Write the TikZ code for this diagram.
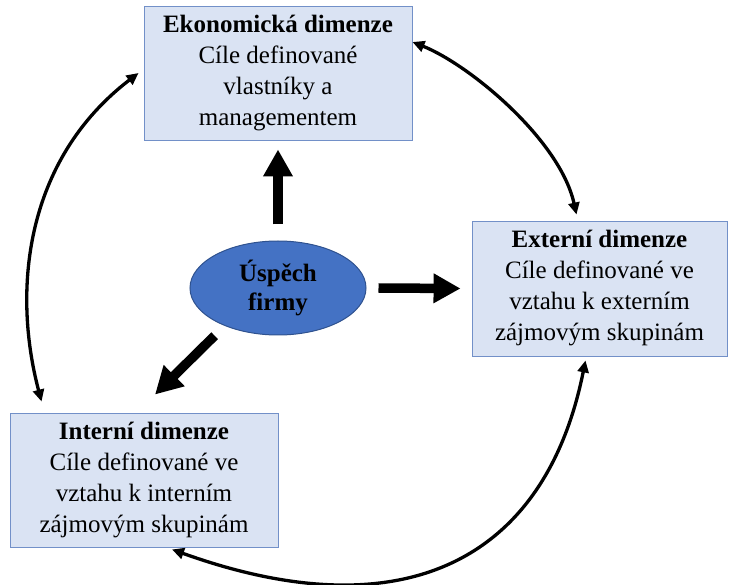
\documentclass[tikz,border=0pt]{standalone}
\usepackage{fontspec}
\setmainfont{Liberation Serif}
\usepackage{tikz}
\usetikzlibrary{arrows.meta, positioning, shapes.geometric}
\usepackage{xcolor}
\definecolor{boxfill}{HTML}{DAE3F3}
\definecolor{boxline}{HTML}{7290C8}
\definecolor{goalfill}{HTML}{4472C4}
\definecolor{goalline}{HTML}{2F528F}
\tikzset{%
	every dimension/.style={
		rectangle,
		draw=boxline,
		fill=boxfill,
		line width=0.9pt,
		inner sep=0pt,
		align=center,
		font=\fontsize{25}{31}\selectfont
	},
	success/.style={
		ellipse,
		draw=goalline,
		fill=goalfill,
		line width=1pt,
		minimum width=176pt,
		minimum height=94pt,
		inner sep=0pt,
		align=center,
		font=\fontsize{25}{29}\selectfont\bfseries
	},
}

\begin{document}
\begin{tikzpicture}[
			x=1pt, y=-1pt,
			bigarrow/.style={line width=9.5pt, -{Triangle[length=27pt,width=28pt]}},
			linkarrow/.style={line width=3.3pt, {Triangle[length=12pt,width=11pt]}-{Triangle[length=12pt,width=11pt]}}
			]
			\useasboundingbox (0,0) rectangle (729,585);
			\node[every dimension, minimum width=268pt, minimum height=134pt] (eco) at (278,73)
				{\textbf{Ekonomická dimenze}\\Cíle definované\\vlastníky a\\managementem};
			\node[every dimension, minimum width=255pt, minimum height=135pt] (ext) at (599.5,288.5)
				{\textbf{Externí dimenze}\\Cíle definované ve\\vztahu k externím\\zájmovým skupinám};
			\node[every dimension, minimum width=268pt, minimum height=134pt] (int) at (144,480)
				{\textbf{Interní dimenze}\\Cíle definované ve\\vztahu k interním\\zájmovým skupinám};
			\node[success] (firm) at (278,288) {Úspěch\\firmy};

			\draw[bigarrow] ([yshift=16pt]firm.north) -- ([yshift=-9pt]eco.south);
			\draw[bigarrow] ([xshift=12pt]firm.east) -- ([xshift=-11pt]ext.west);
			\draw[bigarrow] ([shift={(-12pt,-9pt)}]firm.217) -- ([shift={(11pt,18pt)}]int.north);

			\draw[linkarrow] ([shift={(32pt,11pt)}]int.north west) .. controls (12,290) and (25,160) .. ([xshift=-5pt]eco.west);
			\draw[linkarrow] ([yshift=31pt]eco.east) .. controls (470,65) and (560,140) .. ([shift={(-23pt,6pt)}]ext.north);
			\draw[linkarrow] ([shift={(-14pt,-4pt)}]ext.south) .. controls (545,562) and (402,632) .. ([shift={(28pt,-2pt)}]int.south);
		\end{tikzpicture}
\end{document}
